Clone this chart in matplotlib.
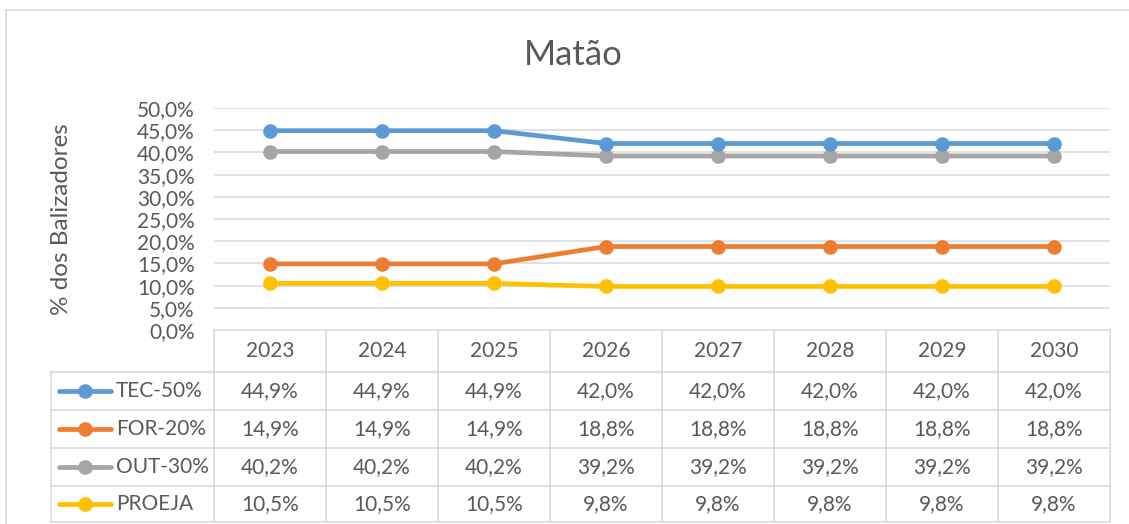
import numpy as np
import matplotlib.pyplot as plt
from matplotlib.lines import Line2D
from matplotlib.transforms import blended_transform_factory

years = ['2023', '2024', '2025', '2026', '2027', '2028', '2029', '2030']
tec = [44.9, 44.9, 44.9, 42.0, 42.0, 42.0, 42.0, 42.0]
form = [14.9, 14.9, 14.9, 18.8, 18.8, 18.8, 18.8, 18.8]
out = [40.2, 40.2, 40.2, 39.2, 39.2, 39.2, 39.2, 39.2]
proeja = [10.5, 10.5, 10.5, 9.8, 9.8, 9.8, 9.8, 9.8]
series_names = ['TEC-50%', 'FOR-20%', 'OUT-30%', 'PROEJA']
colors = ['#5B9BD5', '#ED7D31', '#A5A5A5', '#FFC000']

W, H = 1129, 524
TXT = '#595959'
GRID = '#D9D9D9'
FS = 15
plt.rcParams['font.family'] = ['Lato', 'DejaVu Sans']

fig = plt.figure(figsize=(W / 100, H / 100), dpi=100)

def fx(px):
    return px / W

def fy(px):
    return 1 - px / H

# plot area
ax_l, ax_r, ax_t, ax_b = 214, 1110, 108, 330
ax = fig.add_axes([fx(ax_l), fy(ax_b), fx(ax_r - ax_l), (ax_b - ax_t) / H])

x = np.arange(len(years))
# draw order: yellow, gray, orange, blue
for vals, c in [(proeja, colors[3]), (out, colors[2]), (form, colors[1]), (tec, colors[0])]:
    ax.plot(x, np.array(vals) / 100, color=c, lw=3.4, marker='o', ms=9.5, solid_capstyle='round')

ax.set_xlim(-0.5, len(years) - 0.5)
ax.set_ylim(0, 0.5)
ticks = np.arange(0, 0.501, 0.05)
ax.set_yticks(ticks)
ax.set_yticklabels([f'{t*100:.1f}%'.replace('.', ',') for t in ticks], color=TXT, fontsize=FS)
ax.set_xticks([])
ax.tick_params(axis='y', length=0, pad=14)
for s in ax.spines.values():
    s.set_visible(False)
for t in ticks[1:]:
    ax.axhline(t, color=GRID, lw=1.1, zorder=0)
ax.set_ylabel('% dos Balizadores', color=TXT, fontsize=17.5)
ax.yaxis.set_label_coords((72 - ax_l) / (ax_r - ax_l), 0.5)

fig.text(fx(573), fy(55), 'Matão', ha='center', va='center', fontsize=25, color=TXT)

# data table under the plot
tr = blended_transform_factory(ax.transData, fig.transFigure)
row_edges = [330, 372, 410, 448, 486, 522]
tab_left = 51

def hline(x0, x1, ypx):
    fig.add_artist(Line2D([fx(x0), fx(x1)], [fy(ypx), fy(ypx)], color=GRID, lw=1.1))

hline(ax_l, ax_r, row_edges[0])
for ypx in row_edges[1:]:
    hline(tab_left, ax_r, ypx)
fig.add_artist(Line2D([fx(tab_left)] * 2, [fy(row_edges[1]), fy(row_edges[-1])], color=GRID, lw=1.1))
for k in range(len(years) + 1):
    xd = k - 0.5
    fig.add_artist(Line2D([xd, xd], [fy(row_edges[0]), fy(row_edges[-1])], color=GRID, lw=1.1, transform=tr))

ymid = [(row_edges[i] + row_edges[i + 1]) / 2 for i in range(len(row_edges) - 1)]
for i, yr in enumerate(years):
    fig.text(i, fy(ymid[0]), yr, transform=tr, ha='center', va='center', fontsize=FS, color=TXT)

for r, (name, vals, c) in enumerate(zip(series_names, [tec, form, out, proeja], colors)):
    yc = fy(ymid[r + 1])
    fig.add_artist(Line2D([fx(59), fx(111)], [yc, yc], color=c, lw=3.4, solid_capstyle='round'))
    fig.add_artist(Line2D([fx(85)], [yc], color=c, marker='o', ms=9.5))
    fig.text(fx(116), yc, name, ha='left', va='center', fontsize=FS, color=TXT)
    for i, v in enumerate(vals):
        fig.text(i, yc, f'{v:.1f}%'.replace('.', ','), transform=tr, ha='center', va='center',
                 fontsize=FS, color=TXT)

# chart border
fig.add_artist(Line2D([fx(6), fx(W)], [fy(10), fy(10)], color=GRID, lw=1.2))
fig.add_artist(Line2D([fx(6), fx(6)], [fy(10), fy(H)], color=GRID, lw=1.2))

fig.savefig('out.png', dpi=100)
